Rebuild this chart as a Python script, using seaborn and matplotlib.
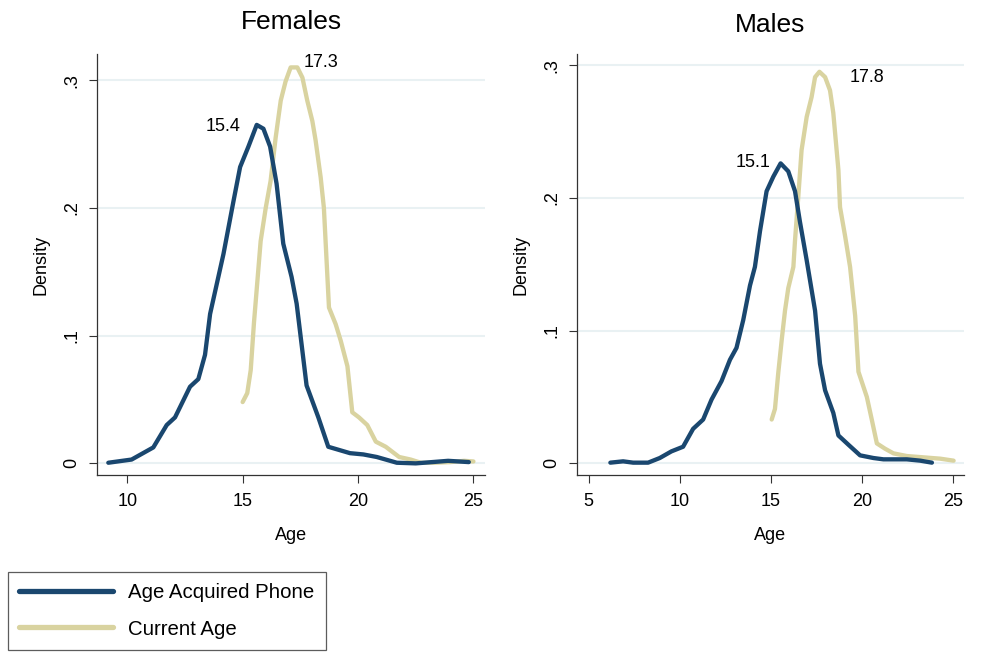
import matplotlib
matplotlib.use("Agg")
import matplotlib.pyplot as plt
import seaborn as sns
import numpy as np
import pandas as pd
from matplotlib.lines import Line2D

# ---------------- data ----------------
panels = ["Females", "Males"]
series_names = ["Age Acquired Phone", "Current Age"]

f_acq_x = [9.18, 10.19, 11.13, 11.71, 12.07, 12.72, 13.08, 13.37, 13.59, 14.17, 14.60, 14.89,
           15.25, 15.61, 15.90, 16.19, 16.47, 16.76, 17.12, 17.34, 17.77, 18.28, 18.71, 19.65,
           20.23, 20.81, 21.68, 22.5, 23.2, 23.9, 24.8]
f_acq_y = [0.0005, 0.003, 0.0125, 0.030, 0.036, 0.060, 0.066, 0.085, 0.117, 0.164, 0.205, 0.232,
           0.248, 0.265, 0.262, 0.248, 0.219, 0.172, 0.146, 0.125, 0.061, 0.036, 0.013, 0.008,
           0.007, 0.005, 0.0005, 0.0, 0.001, 0.002, 0.001]

f_cur_x = [15.0, 15.2, 15.35, 15.49, 15.64, 15.78, 16.0, 16.21, 16.43, 16.65, 16.86, 17.08, 17.37,
           17.59, 17.80, 18.02, 18.16, 18.38, 18.52, 18.74, 19.03, 19.25, 19.54, 19.75, 20.04,
           20.4, 20.77, 21.2, 21.78, 22.28, 22.72, 23.3, 24.0, 24.6, 25.0]
f_cur_y = [0.048, 0.055, 0.073, 0.110, 0.143, 0.174, 0.200, 0.221, 0.255, 0.284, 0.299, 0.310, 0.310,
           0.302, 0.284, 0.268, 0.253, 0.224, 0.200, 0.122, 0.109, 0.096, 0.076, 0.040, 0.036,
           0.030, 0.017, 0.013, 0.005, 0.003, 0.0005, 0.0005, 0.001, 0.002, 0.0015]

m_acq_x = [6.19, 6.89, 7.44, 8.26, 8.90, 9.54, 10.18, 10.73, 11.28, 11.74, 12.29, 12.75, 13.11,
           13.48, 13.85, 14.12, 14.40, 14.76, 15.13, 15.53, 15.95, 16.32, 16.59, 16.96, 17.42,
           17.69, 17.97, 18.42, 18.70, 19.25, 19.89, 20.62, 21.17, 22.45, 23.19, 23.83]
m_acq_y = [0.0005, 0.0015, 0.0005, 0.0005, 0.004, 0.009, 0.0125, 0.026, 0.033, 0.048, 0.062, 0.078,
           0.087, 0.108, 0.134, 0.148, 0.175, 0.205, 0.216, 0.226, 0.220, 0.205, 0.182, 0.153,
           0.115, 0.075, 0.055, 0.038, 0.021, 0.014, 0.006, 0.004, 0.003, 0.003, 0.002, 0.0005]

m_cur_x = [15.04, 15.22, 15.40, 15.59, 15.77, 15.95, 16.23, 16.32, 16.50, 16.68, 16.96, 17.23,
           17.42, 17.66, 17.97, 18.24, 18.42, 18.70, 18.79, 19.07, 19.34, 19.62, 19.80, 20.26,
           20.53, 20.81, 21.26, 21.72, 22.45, 23.37, 24.29, 25.02]
m_cur_y = [0.033, 0.041, 0.068, 0.093, 0.115, 0.132, 0.148, 0.168, 0.201, 0.236, 0.261, 0.276,
           0.291, 0.295, 0.291, 0.281, 0.264, 0.221, 0.193, 0.171, 0.148, 0.111, 0.069, 0.050,
           0.033, 0.015, 0.011, 0.0075, 0.0055, 0.0045, 0.0035, 0.002]

# peak annotations: (text, x, y, alignment)
f_labels = [("15.4", 14.9, 0.264, "right"), ("17.3", 17.66, 0.3137, "left")]
m_labels = [("15.1", 14.95, 0.227, "right"), ("17.8", 19.30, 0.291, "left")]

f_xticks = [10, 15, 20, 25]
m_xticks = [5, 10, 15, 20, 25]
yticks = [0, 0.1, 0.2, 0.3]
ytick_labels = ["0", ".1", ".2", ".3"]

# ---------------- style ----------------
sns.set_theme(style="ticks")
plt.rcParams["font.family"] = ["Liberation Sans", "DejaVu Sans"]
plt.rcParams["text.color"] = "black"
plt.rcParams["axes.labelcolor"] = "black"

BLUE = "#1a476f"
BEIGE = "#d9d3a0"
GRID = "#e9f1f3"

W, H = 992, 654
fig = plt.figure(figsize=(W / 100, H / 100), dpi=100)
fig.patch.set_facecolor("white")


def px_axes(l, t, r, b):
    return fig.add_axes([l / W, 1 - b / H, (r - l) / W, (b - t) / H])


specs = [
    dict(box=(97, 54, 485, 475), xlim=(8.69, 25.5), ylim=(-0.0091, 0.3205),
         xticks=f_xticks, acq=(f_acq_x, f_acq_y), cur=(f_cur_x, f_cur_y), labels=f_labels,
         title="Females", title_y=22),
    dict(box=(577, 54, 964, 475), xlim=(4.36, 25.59), ylim=(-0.0088, 0.3084),
         xticks=m_xticks, acq=(m_acq_x, m_acq_y), cur=(m_cur_x, m_cur_y), labels=m_labels,
         title="Males", title_y=25),
]

for sp in specs:
    ax = px_axes(*sp["box"])
    ax.set_facecolor("white")
    for yv in yticks:
        ax.axhline(yv, color=GRID, lw=1.5, zorder=0)
    df_a = pd.DataFrame({"Age": sp["acq"][0], "Density": sp["acq"][1]})
    df_c = pd.DataFrame({"Age": sp["cur"][0], "Density": sp["cur"][1]})
    sns.lineplot(data=df_a, x="Age", y="Density", ax=ax, color=BLUE, linewidth=3.1,
                 sort=False, estimator=None, zorder=3)
    sns.lineplot(data=df_c, x="Age", y="Density", ax=ax, color=BEIGE, linewidth=3.1,
                 sort=False, estimator=None, zorder=2)
    ax.set_xlim(*sp["xlim"])
    ax.set_ylim(*sp["ylim"])
    ax.set_xticks(sp["xticks"])
    ax.set_xticklabels([str(v) for v in sp["xticks"]])
    ax.set_yticks(yticks)
    ax.set_yticklabels(ytick_labels, rotation=90, va="center")
    ax.tick_params(axis="both", direction="out", length=6, width=0.8, color="#333333",
                   labelsize=13, labelcolor="black")
    ax.tick_params(axis="x", pad=7)
    ax.tick_params(axis="y", pad=6)
    for s in ["top", "right"]:
        ax.spines[s].set_visible(False)
    for s in ["left", "bottom"]:
        ax.spines[s].set_color("#333333")
        ax.spines[s].set_linewidth(0.9)
    ax.set_xlabel("Age", fontsize=13, labelpad=12, color="black")
    ax.set_ylabel("Density", fontsize=13, labelpad=10, color="black")
    for txt, x, y, ha in sp["labels"]:
        ax.text(x, y, txt, ha=ha, va="center", fontsize=13, color="black")
    l, t, r, b = sp["box"]
    fig.text(((l + r) / 2) / W, 1 - sp["title_y"] / H, sp["title"], ha="center",
             va="center", fontsize=19, color="black")

handles = [Line2D([0], [0], color=BLUE, lw=3.8), Line2D([0], [0], color=BEIGE, lw=3.8)]
leg = fig.legend(handles, series_names, loc="upper left",
                 bbox_to_anchor=(8 / W, 1 - 572 / H), bbox_transform=fig.transFigure,
                 borderaxespad=0, frameon=True, fancybox=False, edgecolor="#333333",
                 fontsize=14.7, handlelength=4.6, handletextpad=0.75, borderpad=0.55,
                 labelspacing=0.85)
leg.get_frame().set_linewidth(0.9)
for t in leg.get_texts():
    t.set_color("black")

fig.savefig("out.png", dpi=100, facecolor="white")
